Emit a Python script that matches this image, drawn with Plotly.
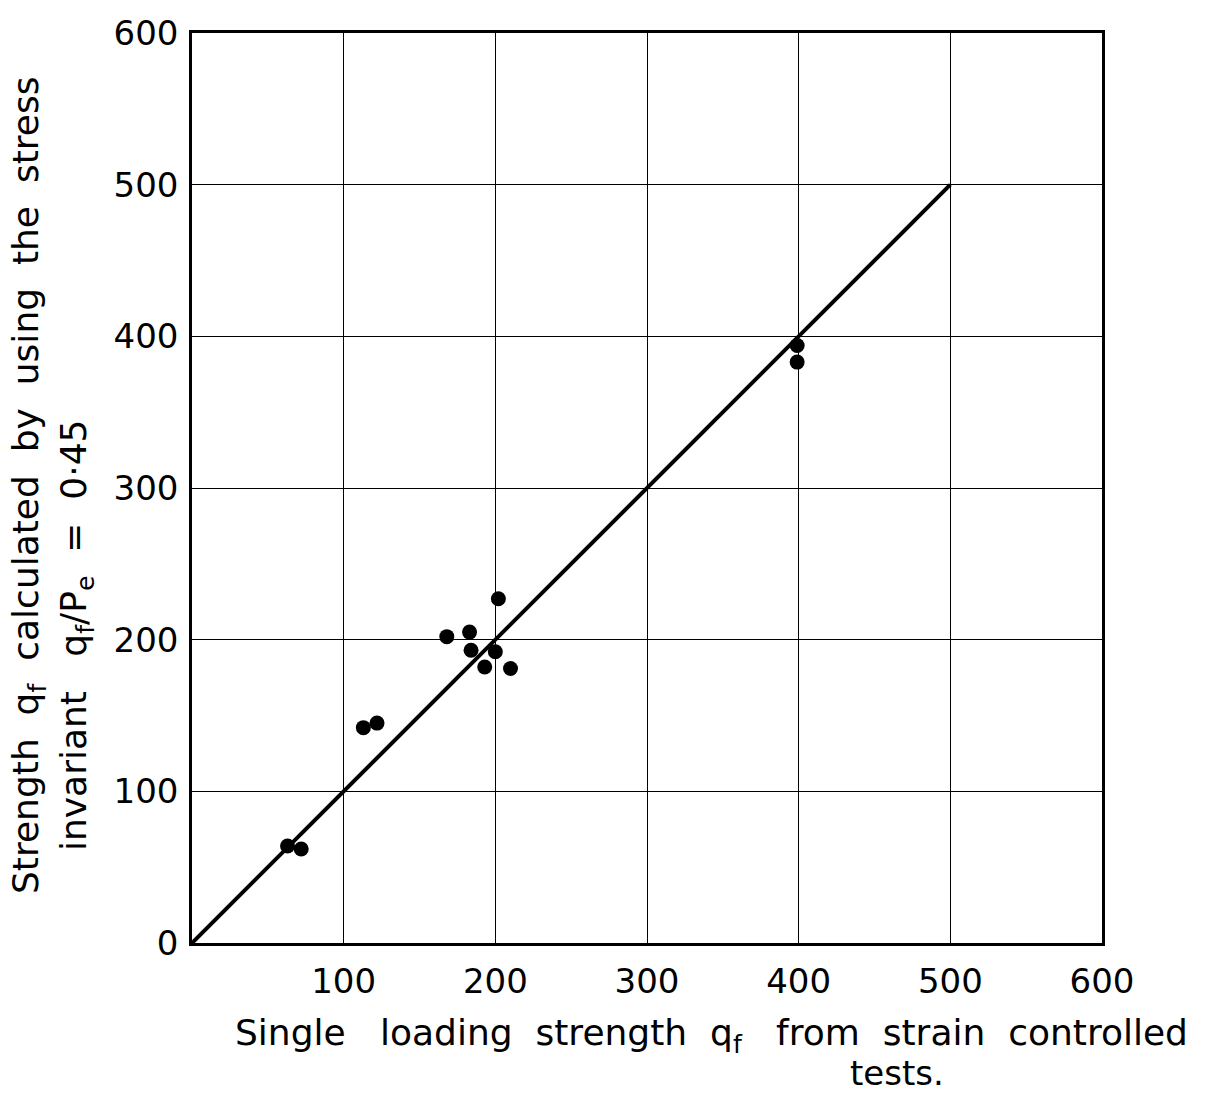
import plotly.graph_objects as go

# Data
single_loading_qf = [63, 72, 113, 122, 168, 183, 184, 193, 200, 202, 210, 399, 399]
calculated_qf = [64, 62, 142, 145, 202, 205, 193, 182, 192, 227, 181, 394, 383]
line_x = [0, 500]
line_y = [0, 500]
x_ticks = [100, 200, 300, 400, 500, 600]
y_ticks = [0, 100, 200, 300, 400, 500, 600]

W, H = 1213, 1096
L, R, T, B = 192, 111, 33, 153
pw, ph = W - L - R, H - T - B

def px(xp):
    return (xp - L) / pw

def py(yp):
    return (H - B - yp) / ph

FONT = "DejaVu Sans"

fig = go.Figure()
fig.add_trace(go.Scatter(x=line_x, y=line_y, mode="lines",
                         line=dict(color="black", width=4), showlegend=False))
fig.add_trace(go.Scatter(x=single_loading_qf, y=calculated_qf, mode="markers",
                         marker=dict(color="black", size=15), showlegend=False))

axis_common = dict(range=[0, 600], showgrid=True, gridcolor="black", gridwidth=1.3,
                   showline=True, linecolor="black", linewidth=2.5, mirror=True,
                   zeroline=False, ticks="",
                   tickfont=dict(family=FONT, size=34, color="black"))
fig.update_xaxes(tickvals=x_ticks, ticktext=[str(v) for v in x_ticks],
                 ticklabelstandoff=6, **axis_common)
fig.update_yaxes(tickvals=y_ticks, ticktext=[str(v) for v in y_ticks],
                 ticklabelstandoff=4, **axis_common)

tfont = dict(family=FONT, size=36, color="black")
fig.add_annotation(text="Single   loading  strength  q<sub>f</sub>   from  strain  controlled",
                   xref="paper", yref="paper", x=px(711), y=py(1035),
                   xanchor="center", yanchor="middle", showarrow=False, font=tfont)
fig.add_annotation(text="tests.", xref="paper", yref="paper", x=px(897), y=py(1073),
                   xanchor="center", yanchor="middle", showarrow=False,
                   font=dict(family=FONT, size=34, color="black"))
fig.add_annotation(text="Strength  q<sub>f</sub>  calculated  by  using  the  stress",
                   xref="paper", yref="paper", x=px(28), y=py(486),
                   xanchor="center", yanchor="middle", showarrow=False,
                   textangle=-90, font=tfont)
fig.add_annotation(text="invariant   q<sub>f</sub>/P<sub>e</sub>  =  0·45",
                   xref="paper", yref="paper", x=px(76), y=py(636),
                   xanchor="center", yanchor="middle", showarrow=False,
                   textangle=-90, font=tfont)

fig.update_layout(width=W, height=H, margin=dict(l=L, r=R, t=T, b=B),
                  paper_bgcolor="white", plot_bgcolor="white",
                  font=dict(family=FONT, color="black"))

fig.write_html("out.html")
